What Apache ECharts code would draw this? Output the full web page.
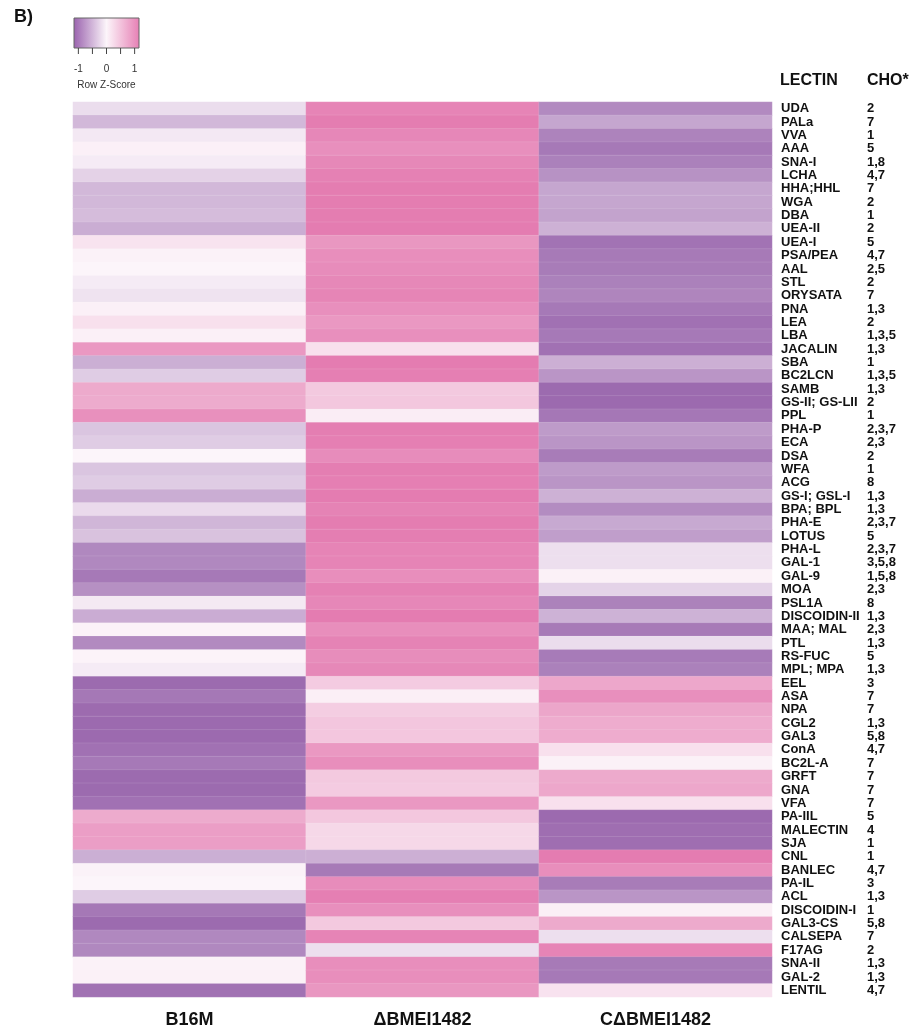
<!DOCTYPE html>
<html>
<head>
<meta charset="utf-8">
<script src="https://cdn.jsdelivr.net/npm/echarts@6/dist/echarts.min.js"></script>
<style>
  html, body { margin: 0; padding: 0; background: #ffffff; }
  #chart { width: 919px; height: 1029px; }
</style>
</head>
<body>
<div id="chart"></div>
<script>
// Sample groups (heatmap columns)
const groups = ['B16M', 'ΔBMEI1482', 'CΔBMEI1482'];

// Lectins (heatmap rows, top to bottom)
const lectins = [
  'UDA', 'PALa', 'VVA', 'AAA', 'SNA-I', 'LCHA', 'HHA;HHL', 'WGA', 'DBA', 'UEA-II',
  'UEA-I', 'PSA/PEA', 'AAL', 'STL', 'ORYSATA', 'PNA', 'LEA', 'LBA', 'JACALIN', 'SBA',
  'BC2LCN', 'SAMB', 'GS-II; GS-LII', 'PPL', 'PHA-P', 'ECA', 'DSA', 'WFA', 'ACG', 'GS-I; GSL-I',
  'BPA; BPL', 'PHA-E', 'LOTUS', 'PHA-L', 'GAL-1', 'GAL-9', 'MOA', 'PSL1A', 'DISCOIDIN-II', 'MAA; MAL',
  'PTL', 'RS-FUC', 'MPL; MPA', 'EEL', 'ASA', 'NPA', 'CGL2', 'GAL3', 'ConA', 'BC2L-A',
  'GRFT', 'GNA', 'VFA', 'PA-IIL', 'MALECTIN', 'SJA', 'CNL', 'BANLEC', 'PA-IL', 'ACL',
  'DISCOIDIN-I', 'GAL3-CS', 'CALSEPA', 'F17AG', 'SNA-II', 'GAL-2', 'LENTIL'
];

// Carbohydrate specificity codes, one per lectin
const cho = [
  '2', '7', '1', '5', '1,8', '4,7', '7', '2', '1', '2',
  '5', '4,7', '2,5', '2', '7', '1,3', '2', '1,3,5', '1,3', '1',
  '1,3,5', '1,3', '2', '1', '2,3,7', '2,3', '2', '1', '8', '1,3',
  '1,3', '2,3,7', '5', '2,3,7', '3,5,8', '1,5,8', '2,3', '8', '1,3', '2,3',
  '1,3', '5', '1,3', '3', '7', '7', '1,3', '5,8', '4,7', '7',
  '7', '7', '7', '5', '4', '1', '1', '4,7', '3', '1,3',
  '1', '5,8', '7', '2', '1,3', '1,3', '4,7'
];

// Row Z-scores per group
const zB16M = [
  -0.20, -0.50, -0.11, 0.05, -0.08, -0.29, -0.50, -0.50, -0.47, -0.59,
  0.17, 0.03, 0.00, -0.08, -0.15, 0.05, 0.20, 0.05, 0.885, -0.58,
  -0.34, 0.72, 0.705, 0.96, -0.40, -0.34, 0.00, -0.40, -0.34, -0.59,
  -0.22, -0.52, -0.42, -0.90, -0.90, -1.02, -0.83, -0.10, -0.60, 0.03,
  -0.885, 0.02, -0.08, -1.14, -1.03, -1.135, -1.145, -1.145, -1.085, -1.02,
  -1.14, -1.14, -1.085, 0.705, 0.83, 0.83, -0.58, 0.03, 0.00, -0.34,
  -1.03, -1.14, -0.90, -0.90, 0.03, 0.04, -1.08
];
const zDeltaBMEI = [
  1.08, 1.15, 1.05, 0.97, 1.04, 1.11, 1.15, 1.15, 1.15, 1.155,
  0.90, 0.985, 1.00, 1.04, 1.07, 0.97, 0.885, 0.97, 0.20, 1.155,
  1.13, 0.42, 0.44, 0.08, 1.14, 1.13, 1.00, 1.14, 1.13, 1.155,
  1.09, 1.15, 1.14, 1.08, 1.08, 0.98, 1.11, 1.05, 1.154, 0.985,
  1.085, 0.99, 1.04, 0.40, 0.06, 0.38, 0.45, 0.45, 0.885, 0.98,
  0.42, 0.40, 0.885, 0.44, 0.28, 0.28, -0.575, -1.015, 1.00, 1.13,
  0.97, 0.42, 1.08, -0.18, 0.985, 0.98, 0.90
];
const zCDeltaBMEI = [
  -0.88, -0.65, -0.94, -1.02, -0.96, -0.82, -0.65, -0.65, -0.68, -0.565,
  -1.07, -1.015, -1.00, -0.96, -0.92, -1.02, -1.085, -1.02, -1.085, -0.575,
  -0.79, -1.14, -1.145, -1.04, -0.74, -0.79, -1.00, -0.74, -0.79, -0.565,
  -0.87, -0.63, -0.72, -0.18, -0.18, 0.04, -0.28, -0.95, -0.554, -1.015,
  -0.20, -1.01, -0.96, 0.74, 0.97, 0.755, 0.695, 0.695, 0.20, 0.04,
  0.72, 0.74, 0.20, -1.145, -1.11, -1.11, 1.155, 0.985, -1.00, -0.79,
  0.06, 0.72, -0.18, 1.08, -1.015, -1.02, 0.18
];

// Color key: ticks and labels
const keyTicks = [-1, -0.5, 0, 0.5, 1];
const keyTickLabels = ['-1', '0', '1'];
const keyTickLabelValues = [-1, 0, 1];

const zMin = -1.155, zMax = 1.155;
const rampColors = ['#9b69ae', '#fcf5fa', '#e47cb1'];

const cells = [];
[zB16M, zDeltaBMEI, zCDeltaBMEI].forEach(function (col, ci) {
  col.forEach(function (v, ri) { cells.push([ci, ri, v]); });
});

// Geometry of the colour key
const key = { x: 74, y: 18, w: 65, h: 30 };
const keyX = function (v) { return key.x + (v - zMin) / (zMax - zMin) * key.w; };

const keyGraphics = [
  {
    type: 'rect',
    shape: { x: key.x, y: key.y, width: key.w, height: key.h },
    style: {
      fill: new echarts.graphic.LinearGradient(0, 0, 1, 0, [
        { offset: 0, color: '#9a62ae' },
        { offset: 0.5, color: rampColors[1] },
        { offset: 1, color: '#e67fb4' }
      ]),
      stroke: '#666', lineWidth: 1
    }
  }
];
keyTicks.forEach(function (t) {
  keyGraphics.push({
    type: 'line',
    shape: { x1: keyX(t), y1: key.y + key.h, x2: keyX(t), y2: key.y + key.h + 6 },
    style: { stroke: '#444', lineWidth: 1 }
  });
});
keyTickLabelValues.forEach(function (t, i) {
  keyGraphics.push({
    type: 'text',
    style: {
      text: keyTickLabels[i], x: keyX(t), y: 69,
      textAlign: 'center', textVerticalAlign: 'middle',
      font: '10px "Liberation Sans", Arial, sans-serif', fill: '#333'
    }
  });
});
keyGraphics.push({
  type: 'text',
  style: {
    text: 'Row Z-Score', x: keyX(0), y: 85,
    textAlign: 'center', textVerticalAlign: 'middle',
    font: '10px "Liberation Sans", Arial, sans-serif', fill: '#333'
  }
});
keyGraphics.push({
  type: 'text',
  style: {
    text: 'B)', x: 14, y: 17,
    textAlign: 'left', textVerticalAlign: 'middle',
    font: 'bold 18px "Liberation Sans", Arial, sans-serif', fill: '#111'
  }
});
keyGraphics.push({
  type: 'text',
  style: {
    text: 'LECTIN', x: 780, y: 81,
    textAlign: 'left', textVerticalAlign: 'middle',
    font: 'bold 16px "Liberation Sans", Arial, sans-serif', fill: '#111'
  }
});
keyGraphics.push({
  type: 'text',
  style: {
    text: 'CHO*', x: 867, y: 81,
    textAlign: 'left', textVerticalAlign: 'middle',
    font: 'bold 16px "Liberation Sans", Arial, sans-serif', fill: '#111'
  }
});

const labelFont = '"Liberation Sans", Arial, sans-serif';

const chart = echarts.init(document.getElementById('chart'), null, { renderer: 'canvas' });
chart.setOption({
  backgroundColor: '#ffffff',
  animation: false,
  grid: { left: 73, right: 147, top: 102, height: 895 },
  xAxis: {
    type: 'category',
    data: groups,
    position: 'bottom',
    axisLine: { show: false },
    axisTick: { show: false },
    splitLine: { show: false },
    axisLabel: {
      margin: 14, fontSize: 18, fontWeight: 'bold', color: '#111', fontFamily: labelFont
    }
  },
  yAxis: [
    {
      type: 'category',
      data: lectins,
      inverse: true,
      position: 'right',
      axisLine: { show: false },
      axisTick: { show: false },
      splitLine: { show: false },
      axisLabel: {
        interval: 0, margin: 9, align: 'left', fontSize: 13, fontWeight: 'bold',
        color: '#111', fontFamily: labelFont
      }
    },
    {
      type: 'category',
      data: lectins,
      inverse: true,
      position: 'right',
      offset: 86,
      axisLine: { show: false },
      axisTick: { show: false },
      splitLine: { show: false },
      axisLabel: {
        interval: 0, margin: 9, align: 'left', fontSize: 13, fontWeight: 'bold',
        color: '#111', fontFamily: labelFont,
        formatter: function (value) { return cho[lectins.indexOf(value)]; }
      }
    }
  ],
  visualMap: {
    show: false,
    type: 'continuous',
    min: zMin,
    max: zMax,
    dimension: 2,
    inRange: { color: rampColors }
  },
  series: [{
    type: 'heatmap',
    data: cells,
    itemStyle: { borderColor: 'rgba(255,255,255,0.22)', borderWidth: 0.5 },
    emphasis: { disabled: true }
  }],
  graphic: keyGraphics
});
</script>
</body>
</html>
